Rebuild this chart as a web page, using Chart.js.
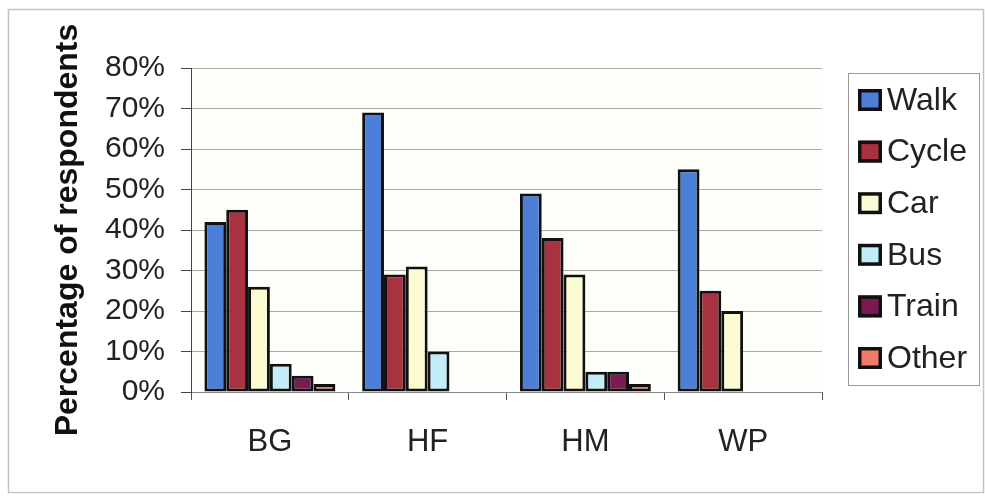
<!DOCTYPE html>
<html>
<head>
<meta charset="utf-8">
<script src="https://cdn.jsdelivr.net/npm/chart.js@4.4.0/dist/chart.umd.min.js"></script>
<style>
html,body{margin:0;padding:0;background:#fff;}
#wrap{position:absolute;left:0;top:0;width:985px;height:497px;}
</style>
</head>
<body>
<div id="wrap"><canvas id="c" width="985" height="497"></canvas></div>
<script>
const categories = ['BG', 'HF', 'HM', 'WP'];
const seriesNames = ['Walk', 'Cycle', 'Car', 'Bus', 'Train', 'Other'];
const walk  = [42, 69, 49, 55];
const cycle = [45, 29, 38, 25];
const car   = [26, 31, 29, 20];
const bus   = [7, 10, 5, null];
const train = [4, null, 5, null];
const other = [2, null, 2, null];
const yTicks = [0, 10, 20, 30, 40, 50, 60, 70, 80];

const seriesValues = [walk, cycle, car, bus, train, other];
const colors = ['#4d7ed8', '#a8323f', '#fdfbd2', '#c2ecf8', '#7a1a52', '#f07c68'];
const FONT = "'Liberation Sans', Arial, sans-serif";

const datasets = seriesNames.map((n, i) => ({
  label: n,
  data: seriesValues[i],
  backgroundColor: colors[i],
  borderColor: '#111',
  borderWidth: 3,
  borderSkipped: false,
  barPercentage: 1.0,
  categoryPercentage: 0.83
}));

const frameAndLegend = {
  id: 'frameAndLegend',
  beforeDraw(chart) {
    const ctx = chart.ctx;
    ctx.save();
    ctx.fillStyle = '#fff';
    ctx.fillRect(0, 0, chart.width, chart.height);
    ctx.fillStyle = '#fefefb';
    const a = chart.chartArea;
    ctx.fillRect(a.left, a.top, a.right - a.left, a.bottom - a.top);
    ctx.strokeStyle = '#c4c4c4';
    ctx.lineWidth = 1.5;
    ctx.strokeRect(8.5, 9.5, 975, 483);
    ctx.restore();
  },
  afterDraw(chart) {
    const ctx = chart.ctx;
    ctx.save();
    const bx = 848.5, by = 73.5, bw = 131, bh = 312;
    ctx.fillStyle = '#fff';
    ctx.fillRect(bx, by, bw, bh);
    ctx.strokeStyle = '#999';
    ctx.lineWidth = 1;
    ctx.strokeRect(bx, by, bw, bh);
    const startY = 100, step = 51.6;
    ctx.font = '32px ' + FONT;
    ctx.textBaseline = 'middle';
    ctx.textAlign = 'left';
    chart.data.datasets.forEach((ds, i) => {
      const cy = startY + i * step;
      ctx.fillStyle = ds.backgroundColor;
      ctx.fillRect(858, cy - 11, 24, 22);
      ctx.strokeStyle = '#111';
      ctx.lineWidth = 3.5;
      ctx.strokeRect(859.75, cy - 9.25, 20.5, 18.5);
      ctx.fillStyle = '#222';
      ctx.fillText(ds.label, 887, cy + 1);
    });
    ctx.restore();
  }
};

new Chart(document.getElementById('c'), {
  type: 'bar',
  data: { labels: categories, datasets },
  options: {
    responsive: false,
    animation: false,
    devicePixelRatio: 1,
    layout: { padding: { left: 8, top: 68, right: 163, bottom: 0 } },
    plugins: { legend: { display: false }, tooltip: { enabled: false } },
    scales: {
      x: {
        grid: { display: true, drawOnChartArea: false, drawTicks: true, tickLength: 8, tickColor: '#555', offset: true },
        border: { display: true, color: '#888', width: 1 },
        ticks: { font: { family: FONT, size: 31 }, color: '#222', padding: 24, maxRotation: 0 },
        afterFit(s) { s.height = 105; }
      },
      y: {
        min: 0,
        max: 80,
        afterBuildTicks(s) { s.ticks = yTicks.map(v => ({ value: v })); },
        ticks: {
          autoSkip: false,
          font: { family: FONT, size: 30 },
          color: '#222',
          padding: 16,
          callback: v => v + '%'
        },
        grid: { color: '#aaa', lineWidth: 1, drawTicks: true, tickLength: 10, tickColor: '#444' },
        border: { display: true, color: '#444', width: 1 },
        title: {
          display: true,
          text: 'Percentage of respondents',
          font: { family: FONT, size: 32, weight: 'bold' },
          color: '#111',
          padding: { top: 41, bottom: 0 }
        },
        afterFit(s) { s.width = 183; }
      }
    }
  },
  plugins: [frameAndLegend]
});
</script>
</body>
</html>
